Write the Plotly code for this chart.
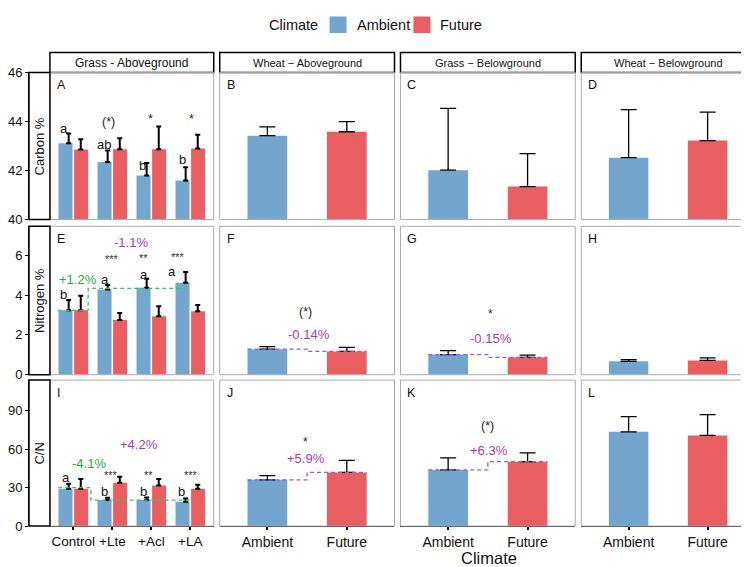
import plotly.graph_objects as go

# ---------------- data ----------------
treatments = ["Control", "+Lte", "+Acl", "+LA"]
climates = ["Ambient", "Future"]
strip_titles = ["Grass - Aboveground", "Wheat \u2212 Aboveground", "Grass \u2212 Belowground", "Wheat \u2212 Belowground"]
row_titles = ["Carbon %", "Nitrogen %", "C/N"]
panel_letters = ["A", "B", "C", "D", "E", "F", "G", "H", "I", "J", "K", "L"]

# Grass aboveground (4 treatments)
carbon_grass_amb = [43.11, 42.34, 41.79, 41.59]
carbon_grass_amb_se = [0.40, 0.47, 0.51, 0.54]
carbon_grass_fut = [42.85, 42.87, 42.87, 42.90]
carbon_grass_fut_se = [0.42, 0.44, 0.92, 0.56]

nitrogen_grass_amb = [3.23, 4.28, 4.37, 4.61]
nitrogen_grass_amb_se = [0.52, 0.22, 0.45, 0.54]
nitrogen_grass_fut = [3.23, 2.74, 2.94, 3.18]
nitrogen_grass_fut_se = [0.73, 0.36, 0.50, 0.32]

cn_grass_amb = [29.2, 20.3, 20.3, 19.0]
cn_grass_amb_se = [3.8, 1.8, 2.0, 2.6]
cn_grass_fut = [29.2, 33.8, 31.7, 29.2]
cn_grass_fut_se = [7.6, 4.8, 5.1, 3.0]

# Other panels (Ambient, Future)
carbon_wheat_above = [43.42, 43.58]
carbon_wheat_above_se = [0.36, 0.41]
carbon_grass_below = [42.01, 41.34]
carbon_grass_below_se = [2.52, 1.35]
carbon_wheat_below = [42.52, 43.22]
carbon_wheat_below_se = [1.96, 1.16]

nitrogen_wheat_above = [1.28, 1.17]
nitrogen_wheat_above_se = [0.13, 0.20]
nitrogen_grass_below = [1.01, 0.87]
nitrogen_grass_below_se = [0.20, 0.11]
nitrogen_wheat_below = [0.67, 0.72]
nitrogen_wheat_below_se = [0.09, 0.13]

cn_wheat_above = [36.1, 41.9]
cn_wheat_above_se = [3.3, 9.4]
cn_grass_below = [43.9, 50.3]
cn_grass_below_se = [9.4, 6.8]
cn_wheat_below = [73.6, 70.8]
cn_wheat_below_se = [11.9, 16.3]

# trend levels (green step lines in grass panels)
nitrogen_grass_trend = [3.23, 4.33]
cn_grass_trend = [30.0, 20.3]

# annotation text content
carbon_grass_letters = ["a", "ab", "b", "b"]
carbon_grass_sig = ["", "(*)", "*", "*"]
nitrogen_grass_letters = ["b", "a", "a", "a"]
nitrogen_grass_sig = ["", "***", "**", "***"]
cn_grass_letters = ["a", "b", "b", "b"]
cn_grass_sig = ["", "***", "**", "***"]

# ---------------- style ----------------
W, H = 749, 567
BLUE = "#72A6CF"
RED = "#EA5E62"
GREEN_T = "#2CA83C"
GREEN_L = "#33CC55"
PURPLE_T = "#A63AB3"
PURPLE_L = "#9B5BD2"
FONT = "Liberation Sans, Arial, sans-serif"

cols_x = [(41, 205), (211, 386), (392, 567), (573, 747)]
rows_y = [(59, 210), (217, 369.5), (375, 525)]
row_ranges = [[40, 46], [0, 7.45], [0, 114]]
row_ticks = [[40, 42, 44, 46], [0, 2, 4, 6], [0, 30, 60, 90]]


def px(x):
    return x / W


def py(y):
    return 1 - y / H


fig = go.Figure()
layout = {}


def ax_names(k):
    n = "" if k == 0 else str(k + 1)
    return "x" + n, "y" + n, "xaxis" + n, "yaxis" + n


# ---------------- axes ----------------
for r in range(3):
    for c in range(4):
        k = r * 4 + c
        xr, yr, xk, yk = ax_names(k)
        x0, x1 = cols_x[c]
        y0, y1 = rows_y[r]
        if c == 0:
            xrange = [-0.6, len(treatments) - 1 + 0.6]
            tvals = list(range(len(treatments)))
            ttext = treatments
        else:
            xrange = [-0.6, len(climates) - 1 + 0.6]
            tvals = list(range(len(climates)))
            ttext = climates
        xa = dict(domain=[px(x0), px(x1)], range=xrange, anchor=yr,
                  showgrid=False, zeroline=False, fixedrange=True)
        if r == 2:
            xa.update(showline=True, linecolor="black", linewidth=1.3,
                      ticks="outside", ticklen=3, tickcolor="black", tickwidth=1.5,
                      tickvals=tvals, ticktext=ttext,
                      tickfont=dict(family=FONT, size=13.5 if c == 0 else 14, color="#111"))
        else:
            xa.update(visible=False)
        ya = dict(domain=[py(y1), py(y0)], range=row_ranges[r],
                  showgrid=False, zeroline=False, fixedrange=True)
        if c == 0:
            ya.update(anchor="free", position=px(20), showline=True,
                      linecolor="black", linewidth=1.8, ticks="outside",
                      ticklen=3, tickcolor="black", tickwidth=1.3,
                      tickvals=row_ticks[r],
                      tickfont=dict(family=FONT, size=13, color="#111"))
        else:
            ya.update(anchor=xr, visible=False)
        layout[xk] = xa
        layout[yk] = ya

# ---------------- bars ----------------
grass_rows = [
    (carbon_grass_amb, carbon_grass_amb_se, carbon_grass_fut, carbon_grass_fut_se),
    (nitrogen_grass_amb, nitrogen_grass_amb_se, nitrogen_grass_fut, nitrogen_grass_fut_se),
    (cn_grass_amb, cn_grass_amb_se, cn_grass_fut, cn_grass_fut_se),
]
other_rows = [
    [(carbon_wheat_above, carbon_wheat_above_se), (carbon_grass_below, carbon_grass_below_se),
     (carbon_wheat_below, carbon_wheat_below_se)],
    [(nitrogen_wheat_above, nitrogen_wheat_above_se), (nitrogen_grass_below, nitrogen_grass_below_se),
     (nitrogen_wheat_below, nitrogen_wheat_below_se)],
    [(cn_wheat_above, cn_wheat_above_se), (cn_grass_below, cn_grass_below_se),
     (cn_wheat_below, cn_wheat_below_se)],
]

for r in range(3):
    k = r * 4
    xr, yr, _, _ = ax_names(k)
    amb, amb_se, fut, fut_se = grass_rows[r]
    xi = list(range(len(treatments)))
    for vals, se, col, name, off, eoff in [(amb, amb_se, BLUE, "Ambient", -0.38, -0.12),
                                           (fut, fut_se, RED, "Future", 0.02, 0.19)]:
        fig.add_trace(go.Bar(
            x=xi, y=vals, width=0.36, offset=off, marker=dict(color=col, line=dict(width=0)),
            xaxis=xr, yaxis=yr, showlegend=False, name=name, hoverinfo="skip"))
        fig.add_trace(go.Scatter(
            x=[i + eoff for i in xi], y=vals, mode="markers",
            marker=dict(size=1, color="rgba(0,0,0,0)"),
            error_y=dict(type="data", symmetric=False, array=se, arrayminus=[0] * len(se),
                         color="black", thickness=2, width=2.5),
            xaxis=xr, yaxis=yr, showlegend=False, hoverinfo="skip"))
    for c in range(1, 4):
        k = r * 4 + c
        xr, yr, _, _ = ax_names(k)
        vals, se = other_rows[r][c - 1]
        fig.add_trace(go.Bar(
            x=list(range(len(climates))), y=vals, width=0.5,
            marker=dict(color=[BLUE, RED], line=dict(width=0)),
            error_y=dict(type="data", symmetric=False, array=se, arrayminus=[0] * len(se),
                         color="black", thickness=1.3, width=8),
            xaxis=xr, yaxis=yr, showlegend=False, hoverinfo="skip"))

# ---------------- dashed step lines ----------------
xr, yr, _, _ = ax_names(4)
fig.add_trace(go.Scatter(
    x=[-0.39, 0.38, len(treatments) - 1 - 0.12],
    y=[nitrogen_grass_trend[0], nitrogen_grass_trend[1], nitrogen_grass_trend[1]],
    mode="lines", line=dict(color=GREEN_L, width=1.3, dash="4px,3px", shape="hv"),
    xaxis=xr, yaxis=yr, showlegend=False, hoverinfo="skip"))
xr, yr, _, _ = ax_names(8)
fig.add_trace(go.Scatter(
    x=[-0.39, 0.45, len(treatments) - 1 + 0.01],
    y=[cn_grass_trend[0], cn_grass_trend[1], cn_grass_trend[1]],
    mode="lines", line=dict(color=GREEN_L, width=1.3, dash="4px,3px", shape="hv"),
    xaxis=xr, yaxis=yr, showlegend=False, hoverinfo="skip"))
for k, vals in [(5, nitrogen_wheat_above), (6, nitrogen_grass_below),
                (9, cn_wheat_above), (10, cn_grass_below)]:
    xr, yr, _, _ = ax_names(k)
    fig.add_trace(go.Scatter(
        x=[-0.25, 0.5, 1.25], y=[vals[0], vals[1], vals[1]],
        mode="lines", line=dict(color=PURPLE_L, width=1.3, dash="4px,3px", shape="hv"),
        xaxis=xr, yaxis=yr, showlegend=False, hoverinfo="skip"))

# ---------------- annotations ----------------
ann = []


def txt(k, x, y, s, size=13, color="#111", star=False):
    xr, yr, _, _ = ax_names(k)
    ann.append(dict(xref=xr, yref=yr, x=x, y=y, text=s, showarrow=False,
                    xanchor="center", yanchor="middle",
                    yshift=-3.5 if star else 0,
                    font=dict(family=FONT, size=size, color=color)))


for r in range(3):
    for c in range(4):
        k = r * 4 + c
        x0, _ = cols_x[c]
        y0, _ = rows_y[r]
        ann.append(dict(xref="paper", yref="paper", x=px(x0 + 5), y=py(y0 + 4),
                        xanchor="left", yanchor="top", text=panel_letters[k], showarrow=False,
                        font=dict(family=FONT, size=12.5, color="#111")))

# A
a_letter_pos = [(-0.24, 43.73), (0.79, 43.05), (1.77, 42.21), (2.79, 42.45)]
for (x, y), s in zip(a_letter_pos, carbon_grass_letters):
    txt(0, x, y, s)
a_sig_pos = [None, (0.89, 43.97), (1.98, 44.26), (3.02, 44.26)]
for p, s in zip(a_sig_pos, carbon_grass_sig):
    if p and s:
        txt(0, p[0], p[1], s, size=12.5, color="#222", star=(s == "*"))

# E
e_letter_pos = [(-0.24, 4.04), (0.80, 4.77), (1.81, 5.05), (2.52, 5.17)]
for (x, y), s in zip(e_letter_pos, nitrogen_grass_letters):
    txt(4, x, y, s)
e_sig_pos = [None, (0.99, 5.97), (1.80, 6.02), (2.68, 6.06)]
for p, s in zip(e_sig_pos, nitrogen_grass_sig):
    if p and s:
        txt(4, p[0], p[1], s, size=11, color="#333", star=True)
txt(4, 0.13, 4.77, "+1.2%", color=GREEN_T)
txt(4, 1.48, 6.64, "-1.1%", color=PURPLE_T)

# I
i_letter_pos = [(-0.20, 38.1), (0.80, 27.2), (1.81, 27.2), (2.78, 27.2)]
for (x, y), s in zip(i_letter_pos, cn_grass_letters):
    txt(8, x, y, s)
i_sig_pos = [None, (0.96, 42.4), (1.94, 42.4), (3.03, 42.4)]
for p, s in zip(i_sig_pos, cn_grass_sig):
    if p and s:
        txt(8, p[0], p[1], s, size=11, color="#333", star=True)
txt(8, 0.40, 49.0, "-4.1%", color=GREEN_T)
txt(8, 1.68, 63.4, "+4.2%", color=PURPLE_T)

# F, G, J, K
txt(5, 0.48, 3.15, "(*)", size=12.5, color="#222")
txt(5, 0.52, 2.04, "-0.14%", color=PURPLE_T)
txt(6, 0.53, 3.23, "*", size=12, color="#222", star=True)
txt(6, 0.54, 1.80, "-0.15%", color=PURPLE_T)
txt(9, 0.48, 68.5, "*", size=12, color="#222", star=True)
txt(9, 0.49, 52.8, "+5.9%", color=PURPLE_T)
txt(10, 0.50, 78.2, "(*)", size=12.5, color="#222")
txt(10, 0.52, 59.2, "+6.3%", color=PURPLE_T)

shapes = []
for c in range(4):
    x0, x1 = cols_x[c]
    shapes.append(dict(type="rect", xref="paper", yref="paper", x0=px(x0), x1=px(x1),
                       y0=py(59), y1=py(38.5), line=dict(color="black", width=1.5),
                       fillcolor="white", layer="above"))
    ann.append(dict(xref="paper", yref="paper", x=px((x0 + x1) / 2), y=py(49), text=strip_titles[c],
                    showarrow=False, xanchor="center", yanchor="middle",
                    font=dict(family=FONT, size=12 if c == 0 else 11, color="#111")))
for r in range(3):
    for c in range(4):
        x0, x1 = cols_x[c]
        y0, y1 = rows_y[r]
        shapes.append(dict(type="rect", xref="paper", yref="paper", x0=px(x0), x1=px(x1),
                           y0=py(y1), y1=py(y0), line=dict(color="#ABABAB", width=1),
                           fillcolor="rgba(0,0,0,0)", layer="above"))
for r in range(3):
    y0, y1 = rows_y[r]
    shapes.append(dict(type="rect", xref="paper", yref="paper", x0=px(20), x1=px(41),
                       y0=py(y1), y1=py(y0), line=dict(color="black", width=1.5),
                       fillcolor="white", layer="above"))
    ann.append(dict(xref="paper", yref="paper", x=px(30.5), y=py((y0 + y1) / 2), text=row_titles[r],
                    textangle=-90, showarrow=False, xanchor="center", yanchor="middle",
                    font=dict(family=FONT, size=13, color="#111")))

# legend
ann.append(dict(xref="paper", yref="paper", x=px(311), y=py(10), text="Climate", showarrow=False,
                xanchor="right", yanchor="middle", font=dict(family=FONT, size=14.5, color="#111")))
for x0, col, label in [(321, BLUE, climates[0]), (405, RED, climates[1])]:
    shapes.append(dict(type="rect", xref="paper", yref="paper", x0=px(x0), x1=px(x0 + 17),
                       y0=py(18.5), y1=py(1.5), line=dict(width=0), fillcolor=col))
    ann.append(dict(xref="paper", yref="paper", x=px(x0 + 25), y=py(10), text=label, showarrow=False,
                    xanchor="left", yanchor="middle", font=dict(family=FONT, size=14.5, color="#111")))

ann.append(dict(xref="paper", yref="paper", x=px(481), y=py(558), text="Climate", showarrow=False,
                xanchor="center", yanchor="middle", font=dict(family=FONT, size=16.5, color="#111")))

layout.update(dict(width=W, height=H, margin=dict(l=0, r=0, t=0, b=0),
                   paper_bgcolor="white", plot_bgcolor="white", barmode="overlay",
                   showlegend=False, annotations=ann, shapes=shapes,
                   font=dict(family=FONT)))
fig.update_layout(**layout)
fig.write_html("out.html")
